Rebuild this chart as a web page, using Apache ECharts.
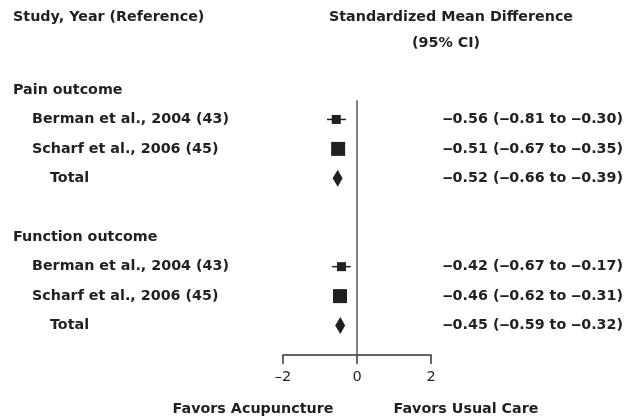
<!DOCTYPE html>
<html><head><meta charset="utf-8">
<script src="https://cdn.jsdelivr.net/npm/echarts@6/dist/echarts.min.js"></script>
<style>html,body{margin:0;padding:0;background:#fff}#c{width:635px;height:420px}</style>
</head><body><div id="c"></div>
<script>
const outcomes = ['Pain outcome', 'Function outcome'];
const studies = ['Berman et al., 2004 (43)', 'Scharf et al., 2006 (45)', 'Total'];
const painEst = [-0.56, -0.51, -0.52];
const painLo  = [-0.81, -0.67, -0.66];
const painHi  = [-0.30, -0.35, -0.39];
const funcEst = [-0.42, -0.46, -0.45];
const funcLo  = [-0.67, -0.62, -0.59];
const funcHi  = [-0.17, -0.31, -0.32];
const xTicks = [-2, 0, 2];
const xTickLabels = ['\u20132', '0', '2'];
const headLeft = 'Study, Year (Reference)';
const headRight = ['Standardized Mean Difference', '(95% CI)'];
const favorLeft = 'Favors Acupuncture';
const favorRight = 'Favors Usual Care';

const FONT = '"DejaVu Sans", sans-serif';
const BFONT = 'bold 14.3px ' + FONT;
const INK = '#231f20';
const fmt = v => (v < 0 ? '\u2012' : '') + Math.abs(v).toFixed(2);

// rows: [rowIndex, est, lo, hi, kind, label]; rows are drawn top-down at y = -rowIndex
const rows = [];
const ests = [painEst, funcEst], los = [painLo, funcLo], his = [painHi, funcHi];
outcomes.forEach((o, g) => {
  const base = g * 5;
  rows.push([base, null, null, null, 'header', o]);
  studies.forEach((s, i) => {
    rows.push([base + 1 + i, ests[g][i], los[g][i], his[g][i], s === 'Total' ? 'total' : 'study' + i, s]);
  });
});
const markRows = rows.filter(r => r[4] !== 'header');

const chart = echarts.init(document.getElementById('c'));
chart.setOption({
  animation: false,
  grid: { left: 283, right: 204, top: 90, bottom: 65 },
  xAxis: {
    type: 'value', min: -2, max: 2, interval: 2, position: 'bottom',
    axisLine: { show: true, onZero: false, lineStyle: { color: '#333', width: 1.5 } },
    axisTick: { show: true, length: 9, lineStyle: { color: '#333', width: 1.5 } },
    splitLine: { show: false },
    axisLabel: {
      margin: 15, fontFamily: FONT, fontSize: 14.5, color: INK,
      formatter: v => xTickLabels[xTicks.indexOf(v)]
    }
  },
  yAxis: { type: 'value', min: -9, max: 0, show: false },
  graphic: [
    { type: 'text', x: 13, y: 17, style: { text: headLeft, font: BFONT, fill: INK, verticalAlign: 'middle' } },
    { type: 'text', x: 451, y: 17, style: { text: headRight[0], font: BFONT, fill: INK, align: 'center', verticalAlign: 'middle' } },
    { type: 'text', x: 446, y: 43, style: { text: headRight[1], font: BFONT, fill: INK, align: 'center', verticalAlign: 'middle' } },
    { type: 'text', x: 253, y: 409, style: { text: favorLeft, font: BFONT, fill: INK, align: 'center', verticalAlign: 'middle' } },
    { type: 'text', x: 466, y: 409, style: { text: favorRight, font: BFONT, fill: INK, align: 'center', verticalAlign: 'middle' } }
  ],
  series: [
    {
      type: 'custom',
      coordinateSystem: 'cartesian2d',
      data: rows.map(r => [0, -r[0]]),
      renderItem: (params, api) => {
        const r = rows[params.dataIndex];
        const kind = r[4];
        const y = api.coord([0, api.value(1)])[1];
        const x = kind === 'header' ? 13 : (kind === 'total' ? 50 : 32);
        const children = [{
          type: 'text', x: x, y: y,
          style: { text: r[5], font: BFONT, fill: INK, verticalAlign: 'middle' }
        }];
        if (kind !== 'header') {
          children.push({
            type: 'text', x: 623, y: y,
            style: { text: fmt(r[1]) + ' (' + fmt(r[2]) + ' to ' + fmt(r[3]) + ')', font: BFONT, fill: INK, align: 'right', verticalAlign: 'middle' }
          });
        }
        return { type: 'group', children };
      },
      silent: true
    },
    {
      type: 'custom',
      coordinateSystem: 'cartesian2d',
      data: markRows.map(r => [r[1], -r[0], r[2], r[3]]),
      renderItem: (params, api) => {
        const est = api.value(0), row = api.value(1), lo = api.value(2), hi = api.value(3);
        const kind = markRows[params.dataIndex][4];
        const c = api.coord([est, row]);
        const pl = api.coord([lo, row]), ph = api.coord([hi, row]);
        const children = [];
        if (kind === 'total') {
          children.push({
            type: 'polygon',
            shape: { points: [[pl[0], c[1]], [c[0], c[1] - 8.5], [ph[0], c[1]], [c[0], c[1] + 8.5]] },
            style: { fill: INK }
          });
        } else {
          const s = kind === 'study0' ? 9 : 14;
          children.push({
            type: 'line', shape: { x1: pl[0], y1: c[1], x2: ph[0], y2: c[1] },
            style: { stroke: INK, lineWidth: 1.5 }
          });
          children.push({
            type: 'rect', shape: { x: c[0] - s / 2, y: c[1] - s / 2, width: s, height: s },
            style: { fill: INK }
          });
        }
        return { type: 'group', children };
      },
      markLine: {
        silent: true, symbol: 'none', label: { show: false },
        lineStyle: { color: '#555', width: 1.5, type: 'solid' },
        data: [[{ coord: [0, -0.35] }, { coord: [0, -9] }]]
      },
      silent: true
    }
  ]
});
</script></body></html>
